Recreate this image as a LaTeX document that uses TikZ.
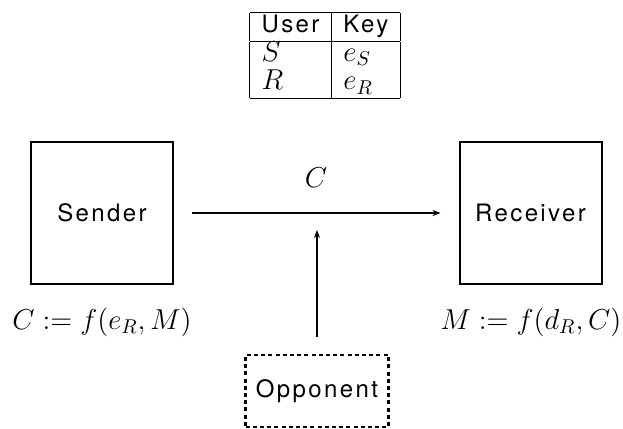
\documentclass[tikz,border=0pt]{standalone}
\usepackage{amsmath}
\usepackage{fontspec}
\setsansfont{TeX Gyre Heros}[LetterSpace=10]
\usetikzlibrary{arrows.meta, positioning, calc}
\newcommand{\figfont}{\fontsize{12}{14}\selectfont}
\newcommand{\mathbig}[1]{{\fontsize{14}{14}\selectfont$#1$}}
\tikzset{
  party/.style={draw, line width=1pt, minimum width=71pt, minimum height=71pt,
                inner sep=0pt, font=\sffamily\figfont},
  spy/.style={draw, line width=1.1pt, dash pattern=on 2pt off 1.6pt,
              minimum width=71.5pt, minimum height=36pt, inner sep=0pt, font=\sffamily\figfont},
  keys/.style={inner sep=0pt, font=\figfont},
  note/.style={inner sep=0pt, font=\fontsize{14.5}{16}\selectfont},
  flow/.style={-{Stealth[length=4pt, width=3pt]}, line width=0.9pt},
}

\begin{document}
\begin{tikzpicture}[x=0.5pt, y=-0.5pt]
  \useasboundingbox (0,0) rectangle (623,429);
  % public key table
  \node (table) [keys] at (325,55.5) {\setlength{\arrayrulewidth}{0.5pt}%
    \begin{tabular}{|l|l|}\hline
      \sffamily User & \sffamily Key\\\hline
      \mathbig{S} & \mathbig{e_S}\\
      \mathbig{R} & \mathbig{e_R}\\\hline
    \end{tabular}};
  % the two parties and the eavesdropper
  \node (sender)   [party] at (102,213) {Sender};
  \node (receiver) [party] at (530.5,213) {Receiver};
  \node (opponent) [spy] at (317,391) {Opponent};
  \draw[flow, shorten <=9pt, shorten >=9pt] (sender) -- (receiver);
  \node (cipher) [note] at (316,178) {$C$};
  \coordinate (tap) at (317,213);
  \draw[flow, shorten <=8.5pt, shorten >=8.5pt] (opponent.north) -- (tap);
  \node (enc) [note] at (102,322) {$C := f(e_R, M)$};
  \node (dec) [note] at (531,322) {$M := f(d_R, C)$};
\end{tikzpicture}
\end{document}
